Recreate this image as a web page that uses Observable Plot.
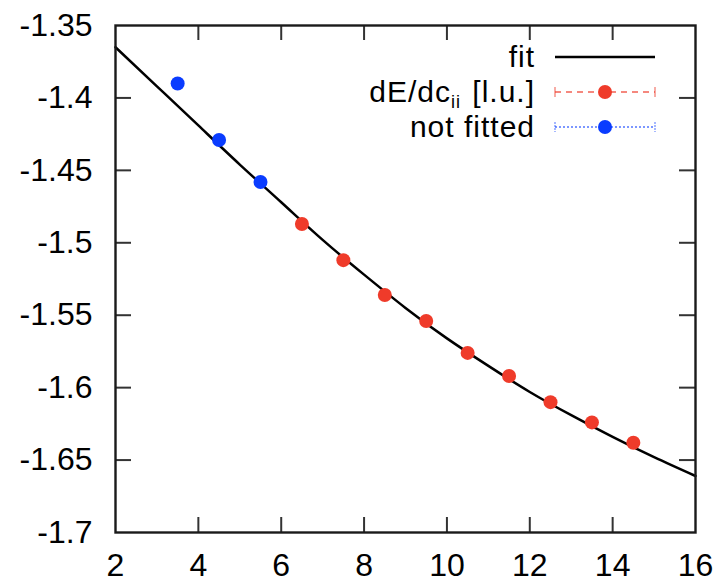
<!DOCTYPE html>
<html><head><meta charset="utf-8">
<script src="https://cdn.jsdelivr.net/npm/d3@7"></script>
<script src="https://cdn.jsdelivr.net/npm/@observablehq/plot@0.6"></script>
<style>
body{margin:0;background:#fff;}
#chart{position:relative;width:725px;height:588px;}
#legend{position:absolute;left:0;top:0;}
#legend text{font-family:"Liberation Sans",Arial,sans-serif;font-size:30px;letter-spacing:1px;fill:#000;}
#chart svg.plot g[aria-label$="axis tick label"] text{font-size:32px;letter-spacing:0.5px;}
</style></head><body><div id="chart"></div>
<script>
const xTicks = [2,4,6,8,10,12,14,16];
const yTicks = [-1.35,-1.4,-1.45,-1.5,-1.55,-1.6,-1.65,-1.7];
const fitX = [2,3,4,5,6,7,8,9,10,11,12,13,14,15,16];
const fitY = [-1.365,-1.392,-1.419,-1.446,-1.472,-1.498,-1.522,-1.545,-1.566,-1.585,-1.603,-1.619,-1.634,-1.648,-1.661];
const fittedX = [6.5,7.5,8.5,9.5,10.5,11.5,12.5,13.5,14.5];
const fittedY = [-1.487,-1.512,-1.536,-1.554,-1.576,-1.592,-1.610,-1.624,-1.638];
const notFittedX = [3.5,4.5,5.5];
const notFittedY = [-1.390,-1.429,-1.458];
const seriesNames = ["fit","dE/dc","not fitted"];

const RED = "#ef3b2a", BLUE = "#0a3cff";
const W = 725, H = 588, mL = 115, mR = 30, mT = 25, mB = 56;
const pW = W - mL - mR, pH = H - mT - mB;
const fit = fitX.map((x,i)=>({x, y: fitY[i]}));
const fitted = fittedX.map((x,i)=>({x, y: fittedY[i]}));
const notFitted = notFittedX.map((x,i)=>({x, y: notFittedY[i]}));
const font = '"Liberation Sans", Arial, sans-serif';
const innerX = xTicks.slice(1,-1), innerY = yTicks.slice(1,-1);

const chart = Plot.plot({
  width: W, height: H,
  marginLeft: mL, marginRight: mR, marginTop: mT, marginBottom: mB,
  style: {fontFamily: font, background: "#fff", fontSize: "32px"},
  x: {domain: [2,16], label: null},
  y: {domain: [-1.7,-1.35], label: null},
  marks: [
    Plot.tickX(innerX, {x: d=>d, insetTop: pH-15, stroke: "#333", strokeWidth: 2}),
    Plot.tickX(innerX, {x: d=>d, insetBottom: pH-15, stroke: "#333", strokeWidth: 2}),
    Plot.tickY(innerY, {y: d=>d, insetRight: pW-16, stroke: "#333", strokeWidth: 2}),
    Plot.tickY(innerY, {y: d=>d, insetLeft: pW-16, stroke: "#333", strokeWidth: 2}),
    Plot.line(fit, {x: "x", y: "y", curve: "natural", stroke: "#000", strokeWidth: 2.5}),
    Plot.dot(notFitted, {x: "x", y: "y", r: 7, fill: BLUE}),
    Plot.dot(fitted, {x: "x", y: "y", r: 7, fill: RED}),
    Plot.frame({stroke: "#1a1a1a", strokeWidth: 2.4}),
    Plot.axisX(xTicks, {tickSize: 0, tickPadding: 21, fontSize: 32, fill: "#000", tickFormat: d=>String(d), label: null}),
    Plot.axisY(yTicks, {tickSize: 0, tickPadding: 23, fontSize: 32, fill: "#000", tickFormat: d=>String(d), label: null})
  ]
});
const root = document.getElementById("chart");
root.appendChild(chart);

// legend overlay
const ns = "http://www.w3.org/2000/svg";
const lg = document.createElementNS(ns, "svg");
lg.setAttribute("id","legend");
lg.setAttribute("width", W); lg.setAttribute("height", H);
function el(tag, attrs, parent){ const e = document.createElementNS(ns, tag); for (const k in attrs) e.setAttribute(k, attrs[k]); (parent||lg).appendChild(e); return e; }
const rows = [57, 92, 127];
const textX = 535, s0 = 555, s1 = 655, sm = 605;
// row 1: fit
let t = el("text", {x: textX, y: rows[0]+10, "text-anchor": "end"}); t.textContent = seriesNames[0];
el("line", {x1: s0, x2: s1, y1: rows[0], y2: rows[0], stroke: "#000", "stroke-width": 2.5});
// row 2
t = el("text", {x: textX, y: rows[1]+10, "text-anchor": "end"});
const a = el("tspan", {}, t); a.textContent = seriesNames[1];
const b = el("tspan", {dy: 6, "font-size": 18}, t); b.textContent = "ii";
const c = el("tspan", {dy: -6, dx: 2}, t); c.textContent = " [l.u.]";
el("line", {x1: s0, x2: s1, y1: rows[1], y2: rows[1], stroke: RED, "stroke-width": 1.5, "stroke-dasharray": "6,5", opacity: 0.8});
el("line", {x1: s0, x2: s0, y1: rows[1]-5, y2: rows[1]+5, stroke: RED, "stroke-width": 1.2, opacity: 0.7});
el("line", {x1: s1, x2: s1, y1: rows[1]-5, y2: rows[1]+5, stroke: RED, "stroke-width": 1.2, opacity: 0.7});
el("circle", {cx: sm, cy: rows[1], r: 7, fill: RED});
// row 3
t = el("text", {x: textX, y: rows[2]+10, "text-anchor": "end"}); t.textContent = seriesNames[2];
el("line", {x1: s0, x2: s1, y1: rows[2], y2: rows[2], stroke: BLUE, "stroke-width": 1.5, "stroke-dasharray": "2,2", opacity: 0.7});
el("line", {x1: s0, x2: s0, y1: rows[2]-5, y2: rows[2]+5, stroke: BLUE, "stroke-width": 1.2, "stroke-dasharray": "2,1", opacity: 0.6});
el("line", {x1: s1, x2: s1, y1: rows[2]-5, y2: rows[2]+5, stroke: BLUE, "stroke-width": 1.2, "stroke-dasharray": "2,1", opacity: 0.6});
el("circle", {cx: sm, cy: rows[2], r: 7, fill: BLUE});
root.appendChild(lg);
</script></body></html>
